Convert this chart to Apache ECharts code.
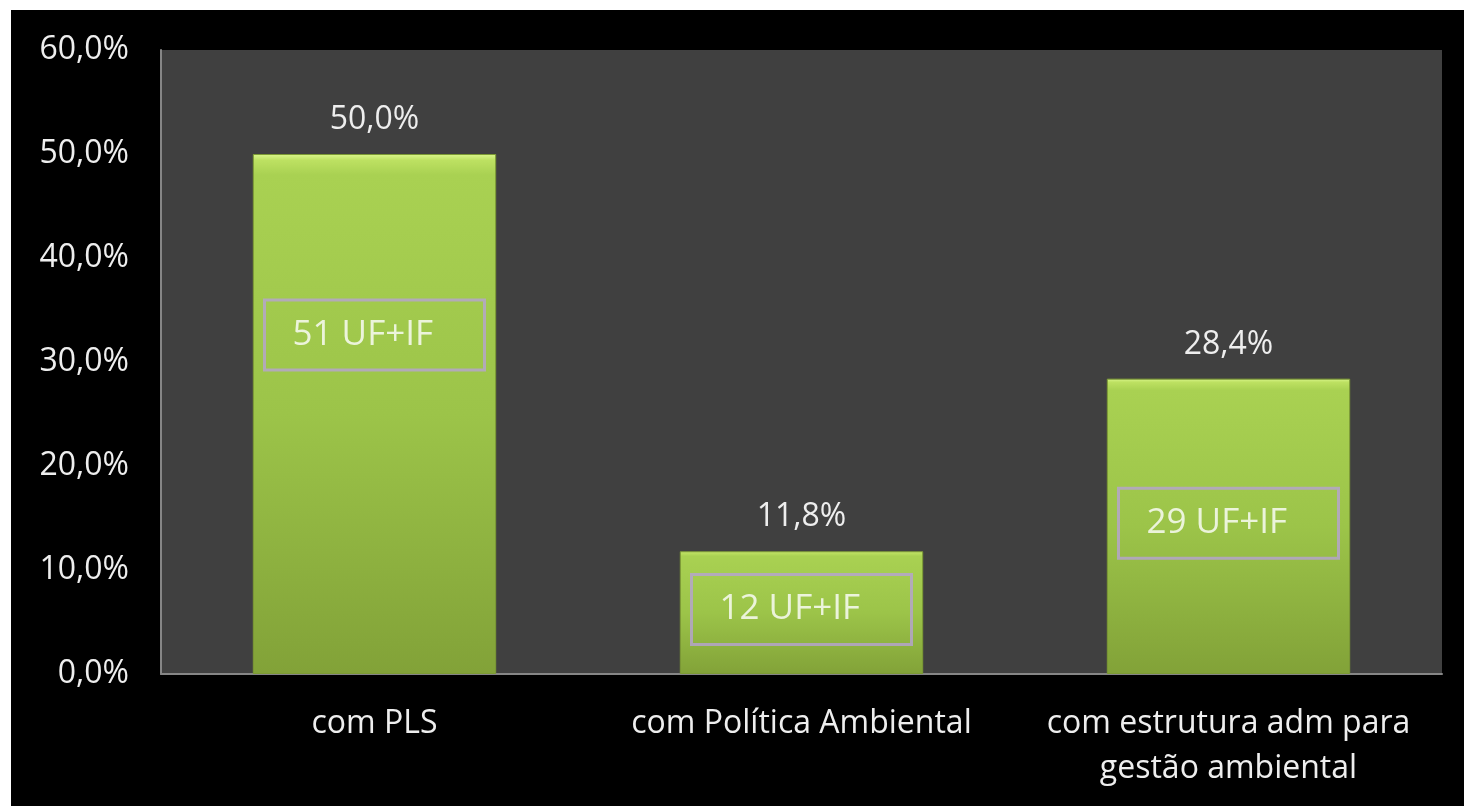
<!DOCTYPE html>
<html>
<head>
<meta charset="utf-8">
<script src="https://cdn.jsdelivr.net/npm/echarts@6/dist/echarts.min.js"></script>
<style>
  html, body { margin: 0; padding: 0; background: #ffffff; width: 1464px; height: 806px; overflow: hidden; }
  #chart { position: absolute; left: 11px; top: 10px; width: 1453px; height: 796px; }
</style>
</head>
<body>
<div id="chart"></div>
<script>
// ---- data ----
const categories = ['com PLS', 'com Política Ambiental', 'com estrutura adm para\ngestão ambiental'];
const percentValues = [50.0, 11.8, 28.4];
const yTickMin = 0, yTickMax = 60, yTickStep = 10;
// annotation boxes (text and the value level where each box sits)
const boxTexts = ['51 UF+IF', '12 UF+IF', '29 UF+IF'];
const boxLevels = [32.6, 6.2, 14.5];

const fmtPct = v => v.toFixed(1).replace('.', ',') + '%';
const FONT = '"Open Sans", "Noto Sans", sans-serif';
const TXT = '#eeeeee';

const chart = echarts.init(document.getElementById('chart'), null, { renderer: 'canvas' });
chart.setOption({
  backgroundColor: '#000000',
  animation: false,
  grid: {
    left: 150, right: 22, top: 40, bottom: 132,
    show: true, backgroundColor: '#404040', borderWidth: 0
  },
  xAxis: {
    type: 'category',
    data: categories,
    axisLine: { show: true, lineStyle: { color: '#868686', width: 2 } },
    axisTick: { show: false },
    axisLabel: { color: TXT, fontFamily: FONT, fontSize: 32, lineHeight: 45, margin: 27, interval: 0 },
    splitLine: { show: false }
  },
  yAxis: {
    type: 'value',
    min: yTickMin, max: yTickMax, interval: yTickStep,
    axisLine: { show: true, lineStyle: { color: '#868686', width: 2 } },
    axisTick: { show: false },
    splitLine: { show: false },
    axisLabel: { color: TXT, fontFamily: FONT, fontSize: 32, margin: 32, formatter: v => fmtPct(v) }
  },
  series: [
    {
      type: 'bar',
      data: percentValues,
      barWidth: '57%',
      itemStyle: {
        color: new echarts.graphic.LinearGradient(0, 0, 0, 1, [
          { offset: 0, color: '#dcf78e' },
          { offset: 0.012, color: '#bde162' },
          { offset: 0.04, color: '#a9d152' },
          { offset: 0.5, color: '#9cc449' },
          { offset: 1, color: '#82a238' }
        ]),
        borderColor: '#7c9a34',
        borderWidth: 1
      },
      label: {
        show: true, position: 'top', distance: 18,
        color: TXT, fontFamily: FONT, fontSize: 32,
        formatter: p => fmtPct(p.value)
      },
      z: 2
    },
    {
      type: 'scatter',
      data: boxLevels.map((v, i) => [i, v]),
      symbolSize: 1,
      itemStyle: { color: 'rgba(0,0,0,0)' },
      silent: true,
      z: 5,
      label: {
        show: true,
        position: 'inside',
        formatter: p => '{t|' + boxTexts[p.dataIndex] + '}',
        borderColor: '#b7a3d3',
        borderWidth: 3,
        padding: [16, 12, 16, 28],
        rich: {
          t: { width: 180, height: 38, align: 'left', verticalAlign: 'middle', color: '#ffffff', fontFamily: FONT, fontSize: 35 }
        }
      }
    }
  ]
});
</script>
</body>
</html>
